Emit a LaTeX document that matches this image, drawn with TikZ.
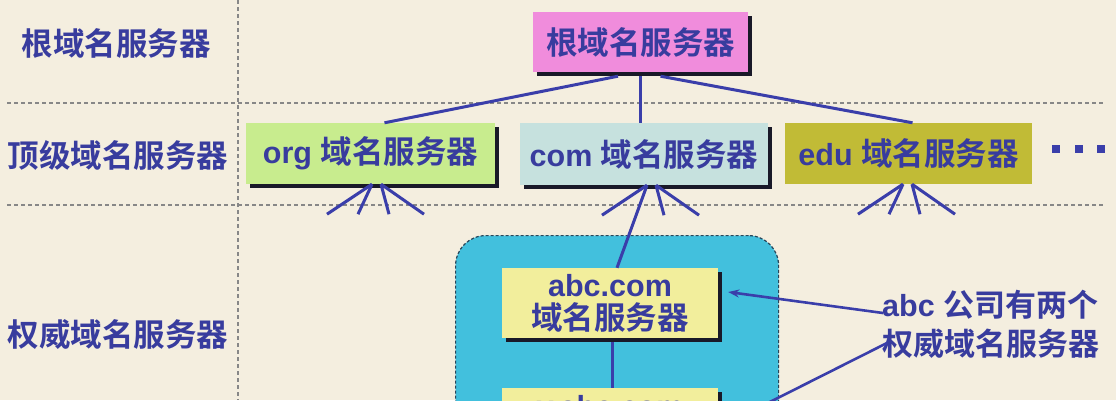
\documentclass[tikz,border=0pt]{standalone}
\usepackage{fontspec}
\newfontfamily\cjkf{Noto Sans CJK SC}[BoldFont={* Bold}]
\newfontfamily\latf{Liberation Sans}
\newcommand\Lt[1]{{\latf\bfseries\fontsize{30.5}{\baselineskip}\selectfont #1}}
\usetikzlibrary{calc,shadows,arrows.meta}
\definecolor{bgc}{RGB}{244,238,223}
\definecolor{txtc}{RGB}{56,60,158}
\definecolor{linec}{RGB}{58,62,170}
\definecolor{rootc}{RGB}{240,140,220}
\definecolor{orgc}{RGB}{200,236,142}
\definecolor{comc}{RGB}{198,225,222}
\definecolor{educ}{RGB}{193,187,54}
\definecolor{abcc}{RGB}{242,238,156}
\definecolor{zonec}{RGB}{66,192,221}
\definecolor{gridc}{RGB}{135,135,135}
\definecolor{shadc}{RGB}{25,25,40}
\definecolor{zoneb}{RGB}{40,70,90}
\begin{document}
\begin{tikzpicture}[x=1pt,y=-1pt,
  tx/.style={text=txtc, inner sep=0pt, font=\cjkf\bfseries\fontsize{31.5}{33}\selectfont},
  srv/.style={tx, minimum width=#1, minimum height=61pt},
  shad/.style={drop shadow={shadow xshift=3.5pt, shadow yshift=-3.5pt, fill=shadc, opacity=1}},
  grid/.style={draw=gridc, line width=1.2pt, dash pattern=on 4pt off 3pt},
  link/.style={draw=linec, line width=3pt},
  arr/.style={link, line width=2.6pt, -{Stealth[length=11pt,width=8pt]}},
  dot/.style={fill=linec, minimum size=8pt, inner sep=0pt}]
\clip (0,0) rectangle (1116,400);
\fill[bgc] (0,0) rectangle (1116,400);
% grid
\draw[grid] (7,103) -- (1105,103);
\draw[grid] (7,205) -- (1105,205);
\draw[grid] (238,0) -- (238,400);
% level labels
\node[tx] (lroot) at (116,43) {根域名服务器};
\node[tx] (ltop) at (118,155) {顶级域名服务器};
\node[tx] (lauth) at (118,335) {权威域名服务器};
% zone
\node[draw=zoneb, fill=zonec, line width=1.2pt, dash pattern=on 3pt off 2pt,
      rounded corners=30pt, minimum width=323pt, minimum height=280pt,
      anchor=north west, inner sep=0pt] (zone) at (455,235) {};
% servers
\node[srv=215pt, minimum height=60pt, fill=rootc, shad] (root) at (640.5,42) {根域名服务器};
\node[srv=249pt, fill=orgc, shad] (org) at (370.5,153.5) {\Lt{org }域名服务器};
\node[srv=248pt, minimum height=62pt, fill=comc, shad] (com) at (644,154) {\Lt{com }域名服务器};
\node[srv=247pt, fill=educ] (edu) at (908.5,153.5) {\Lt{edu }域名服务器};
\node[dot] (d1) at (1056,149) {};
\node[dot] (d2) at (1079,149) {};
\node[dot] (d3) at (1101,149) {};
\node[srv=216pt, minimum height=70pt, fill=abcc, shad, align=center] (abc) at (610,303) {\Lt{abc.com}\\域名服务器};
\node[srv=216pt, minimum height=70pt, fill=abcc, shad] (yabc) at (610,423) {};
\node[tx] (yabct) at ($(yabc.north)+(0,22)$) {\Lt{y.abc.com}};
% note
\node[tx, align=left, anchor=west, font=\cjkf\bfseries\fontsize{31}{39}\selectfont] (note) at (882,324) {\Lt{abc }公司有两个\\权威域名服务器};
% root links
\draw[link] ($(root.south)+(-22.5,4)$) -- ($(org.north)+(14,0)$);
\draw[link] ($(root.south)+(0,4)$) -- (root.south |- com.north);
\draw[link] ($(root.south)+(20,4)$) -- ($(edu.north)+(4,0)$);
% fans
\foreach \n/\d in {org/1.5, com/3, edu/-5.5} {
  \coordinate (\n-a) at ($(\n.south)+(\d,0)$);
  \coordinate (\n-b) at ($(\n-a)+(9,0)$);
  \coordinate (\n-e1) at ($(\n-a)+(-45,30)$);
  \coordinate (\n-e2) at ($(\n-a)+(-14,30)$);
  \coordinate (\n-e3) at ($(\n-b)+(8,30)$);
  \coordinate (\n-e4) at ($(\n-b)+(43,30)$);
}
\foreach \n in {org, com, edu} {
  \draw[link] (\n-a) -- (\n-e1);
  \draw[link] (\n-b) -- (\n-e3);
  \draw[link] (\n-b) -- (\n-e4);
}
\draw[link] (org-a) -- (org-e2);
\draw[link] (edu-a) -- (edu-e2);
\draw[link] (com-a) -- ($(abc.north)+(7,0)$);
% abc to y.abc
\draw[link] ($(abc.south)+(2,4)$) -- ($(yabc.north)+(2,0)$);
% note arrows
\draw[arr] ($(note.west)+(1,-11)$) -- ($(abc.east)+(10,-11)$);
\draw[arr] ($(note.west)+(5,19)$) -- ($(yabc.east)+(4,3)$);
\end{tikzpicture}
\end{document}
